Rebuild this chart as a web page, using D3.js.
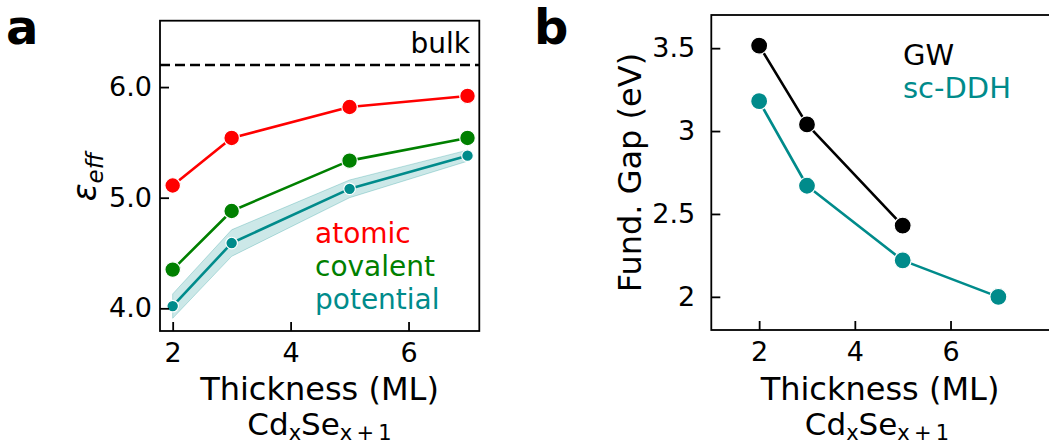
<!DOCTYPE html>
<html>
<head>
<meta charset="utf-8">
<script src="https://cdn.jsdelivr.net/npm/d3@7"></script>
<style>
  html, body { margin: 0; padding: 0; background: #fff; }
  svg { display: block; font-family: "DejaVu Sans", sans-serif; }
</style>
</head>
<body>
<svg id="fig" width="1049" height="444"></svg>
<script>
// ---- panel a: effective dielectric constant vs thickness ----
const thicknessA = [2, 3, 5, 7];
const atomic = [5.11, 5.54, 5.82, 5.92];
const covalent = [4.35, 4.88, 5.335, 5.54];
const potential = [4.02, 4.59, 5.08, 5.38];
const potentialLow = [3.91, 4.47, 5.00, 5.33];
const potentialHigh = [4.13, 4.71, 5.16, 5.43];
const bulkEps = 6.2;
const epsTicks = [4.0, 5.0, 6.0];
const xTicksA = [2, 4, 6];

// ---- panel b: fundamental gap vs thickness ----
const thicknessGW = [2, 3, 5];
const gapGW = [3.515, 3.04, 2.43];
const thicknessDDH = [2, 3, 5, 7];
const gapDDH = [3.18, 2.67, 2.22, 2.0];
const gapTicks = [2, 2.5, 3, 3.5];
const gapTickLabels = ["2", "2.5", "3", "3.5"];
const xTicksB = [2, 4, 6];

const RED = "#ff0000", GREEN = "#008000", TEAL = "#008b8b", BLACK = "#000000";

const svg = d3.select("#fig");

// shared helpers
function frame(g, x0, x1, y0, y1) {
  g.append("rect")
    .attr("x", x0).attr("y", y1)
    .attr("width", x1 - x0).attr("height", y0 - y1)
    .attr("fill", "none").attr("stroke", "#000").attr("stroke-width", 1.8);
}

function drawAxes(g, x, y, xt, yt, ytLabels, yFmt, yPad) {
  const [x0, x1] = x.range();
  const [y0, y1] = y.range();
  // inward ticks on bottom and left
  const xa = d3.axisBottom(x).tickValues(xt).tickSizeInner(-9).tickSizeOuter(0)
    .tickPadding(12).tickFormat(d3.format("d"));
  const gx = g.append("g").attr("transform", `translate(0,${y0})`).call(xa);
  const ya = d3.axisLeft(y).tickValues(yt).tickSizeInner(-9).tickSizeOuter(0)
    .tickPadding(yPad).tickFormat((d, i) => ytLabels ? ytLabels[i] : yFmt(d));
  const gy = g.append("g").attr("transform", `translate(${x0},0)`).call(ya);
  [gx, gy].forEach(a => {
    a.select(".domain").remove();
    a.selectAll(".tick line").attr("stroke", "#000").attr("stroke-width", 1.8);
    a.selectAll(".tick text").attr("font-family", "DejaVu Sans")
      .attr("font-size", 27).attr("fill", "#000");
  });
  gx.selectAll(".tick text").attr("dy", "0.71em");
  frame(g, x0, x1, y0, y1);
}

function series(g, x, y, xs, ys, color, r, lw, edge) {
  const pts = xs.map((d, i) => [x(d), y(ys[i])]);
  g.append("path").attr("d", d3.line()(pts))
    .attr("fill", "none").attr("stroke", color).attr("stroke-width", lw)
    .attr("stroke-linejoin", "round");
  g.selectAll(null).data(pts).enter().append("circle")
    .attr("cx", d => d[0]).attr("cy", d => d[1]).attr("r", r)
    .attr("fill", color)
    .attr("stroke", edge ? "#fff" : "none").attr("stroke-width", edge ? 1.2 : 0);
}

function formulaLabel(g, cx, baseline) {
  const t = g.append("text").attr("x", cx).attr("y", baseline)
    .attr("text-anchor", "middle").attr("font-size", 31).attr("fill", "#000");
  t.append("tspan").text("Cd");
  t.append("tspan").attr("font-size", 21).attr("dy", 5).text("x");
  t.append("tspan").attr("dy", -5).text("Se");
  t.append("tspan").attr("font-size", 21).attr("dy", 5).text("x\u2009+\u20091");
}

// ================= panel a =================
const ga = svg.append("g");
const xA = d3.scaleLinear().domain([1.785, 7.2]).range([160, 479.3]);
const yA = d3.scaleLinear().domain([3.795, 6.6]).range([331, 20.7]);

// uncertainty band for the potential-based estimate
const band = d3.area()
  .x((d, i) => xA(thicknessA[i]))
  .y0((d, i) => yA(potentialLow[i]))
  .y1((d, i) => yA(potentialHigh[i]));
ga.append("path").attr("d", band(thicknessA))
  .attr("fill", TEAL).attr("fill-opacity", 0.2)
  .attr("stroke", TEAL).attr("stroke-opacity", 0.25).attr("stroke-width", 1);

// bulk reference line
ga.append("line")
  .attr("x1", xA.range()[0]).attr("x2", xA.range()[1])
  .attr("y1", yA(bulkEps)).attr("y2", yA(bulkEps))
  .attr("stroke", "#000").attr("stroke-width", 2.5).attr("stroke-dasharray", "10,5");

series(ga, xA, yA, thicknessA, atomic, RED, 7.8, 2.6, true);
series(ga, xA, yA, thicknessA, covalent, GREEN, 7.8, 2.6, true);
series(ga, xA, yA, thicknessA, potential, TEAL, 5.8, 2.6, true);

drawAxes(ga, xA, yA, xTicksA, epsTicks, null, d3.format(".1f"), 8);

ga.append("text").attr("x", 470).attr("y", 53).attr("text-anchor", "end")
  .attr("font-size", 28).attr("fill", "#000").text("bulk");

const legendA = [["atomic", RED], ["covalent", GREEN], ["potential", TEAL]];
ga.selectAll(null).data(legendA).enter().append("text")
  .attr("x", 315).attr("y", (d, i) => 243 + i * 33)
  .attr("font-size", 28).attr("fill", d => d[1]).text(d => d[0]);

// y label: epsilon_eff
const epsLabel = ga.append("text")
  .attr("transform", "translate(96,177) rotate(-90)")
  .attr("text-anchor", "middle").attr("font-size", 33).attr("fill", "#000");
epsLabel.append("tspan").attr("font-style", "italic").text("\u03b5");
epsLabel.append("tspan").attr("font-style", "italic").attr("font-size", 23)
  .attr("dy", 7).text("eff");

ga.append("text").attr("x", 319.5).attr("y", 400).attr("text-anchor", "middle")
  .attr("font-size", 32).attr("fill", "#000").text("Thickness (ML)");
formulaLabel(ga, 319.5, 435);

ga.append("text").attr("x", 6).attr("y", 44).attr("font-size", 48)
  .attr("font-weight", "bold").attr("fill", "#000").text("a");

// ================= panel b =================
const gb = svg.append("g");
const xB = d3.scaleLinear().domain([1, 8.1]).range([711.3, 1051]);
const yB = d3.scaleLinear().domain([1.8, 3.7]).range([330, 15]);

series(gb, xB, yB, thicknessGW, gapGW, BLACK, 8.5, 2.6, true);
series(gb, xB, yB, thicknessDDH, gapDDH, TEAL, 8.5, 2.6, true);

drawAxes(gb, xB, yB, xTicksB, gapTicks, gapTickLabels, null, 16);

gb.append("text").attr("x", 903).attr("y", 65).attr("font-size", 29)
  .attr("fill", BLACK).text("GW");
gb.append("text").attr("x", 903).attr("y", 98).attr("font-size", 29)
  .attr("fill", TEAL).text("sc-DDH");

gb.append("text").attr("transform", "translate(641,172.5) rotate(-90)")
  .attr("text-anchor", "middle").attr("font-size", 32).attr("fill", "#000")
  .text("Fund. Gap (eV)");

gb.append("text").attr("x", 880).attr("y", 400).attr("text-anchor", "middle")
  .attr("font-size", 32).attr("fill", "#000").text("Thickness (ML)");
formulaLabel(gb, 877, 435);

gb.append("text").attr("x", 534).attr("y", 44).attr("font-size", 48)
  .attr("font-weight", "bold").attr("fill", "#000").text("b");
</script>
</body>
</html>
